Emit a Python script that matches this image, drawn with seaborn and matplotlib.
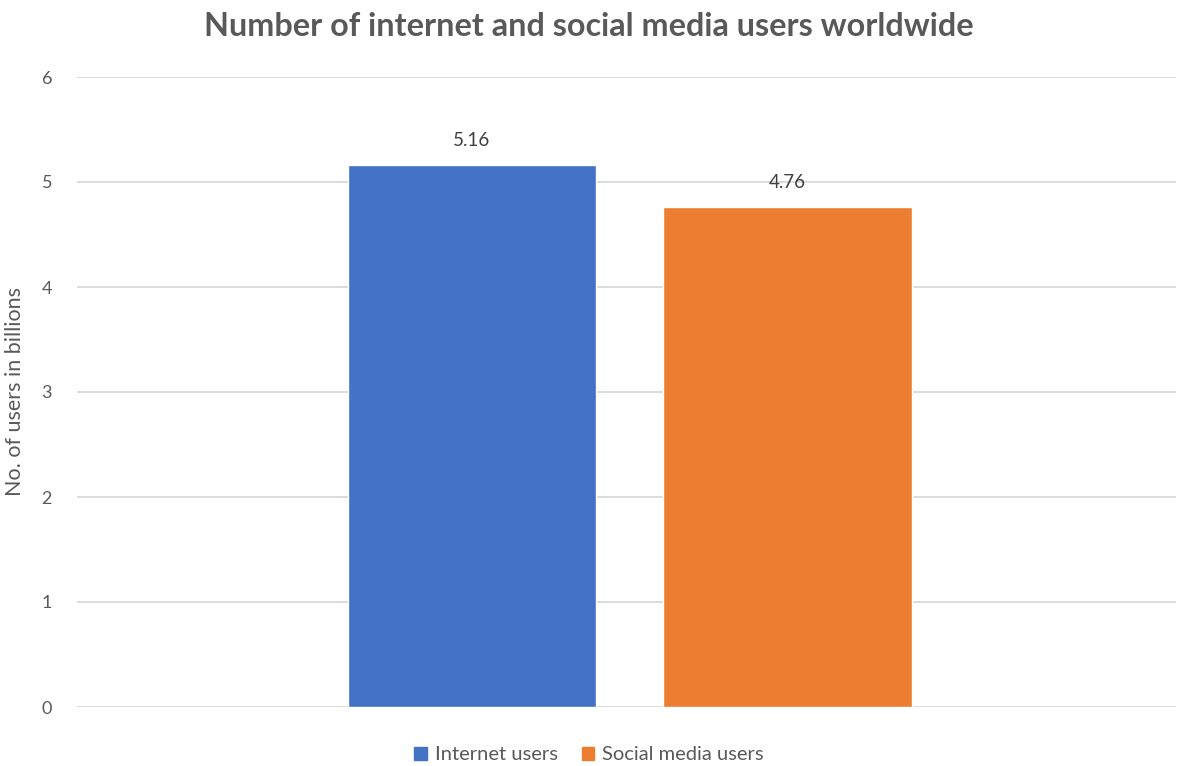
import matplotlib
matplotlib.use("Agg")
import matplotlib.pyplot as plt
import seaborn as sns
import pandas as pd

# data
series = ["Internet users", "Social media users"]
users_bn = [5.16, 4.76]
colors = ["#4472C4", "#ED7D31"]
y_ticks = [0, 1, 2, 3, 4, 5, 6]

TEXT = "#595959"

sns.set_theme(style="white")
plt.rcParams["font.family"] = ["Lato", "DejaVu Sans"]

df = pd.DataFrame({"series": series, "users": users_bn})

fig = plt.figure(figsize=(11.78, 7.66), dpi=100)
ax = fig.add_axes([77 / 1178, 1 - 707 / 766, 1099 / 1178, 630 / 766])

sns.barplot(data=df, x="series", y="users", hue="series", palette=colors,
            width=0.786, dodge=False, saturation=1, legend=False, ax=ax, zorder=3)

ax.set_xlim(-1.25, 2.23)
ax.set_ylim(0, 6)
ax.set_yticks(y_ticks)
ax.set_xticks([])
ax.set_xlabel("")
ax.set_ylabel("No. of users in billions", fontsize=15.5, color=TEXT)
ax.yaxis.set_label_coords(-0.047, 0.5)
ax.tick_params(axis="y", colors=TEXT, labelsize=13, length=0, pad=18)
ax.grid(axis="y", color="#D9D9D9", linewidth=1.3, zorder=0)
for side in ["top", "right", "left", "bottom"]:
    ax.spines[side].set_visible(False)

for c in ax.containers:
    ax.bar_label(c, fmt="%.2f", padding=12, fontsize=13.5, color="#404040")

fig.text(0.5, 1 - 27 / 766, "Number of internet and social media users worldwide",
         ha="center", va="center", fontsize=23.3, fontweight="bold", color=TEXT)

handles = [plt.Rectangle((0, 0), 1, 1, color=c) for c in colors]
fig.legend(handles, series, loc="center", bbox_to_anchor=(0.5, 1 - 755 / 766),
           ncol=2, frameon=False, fontsize=14.5, labelcolor=TEXT,
           handlelength=0.6, handleheight=0.6, handletextpad=0.4, columnspacing=1.2)

fig.savefig("out.png", dpi=100)
